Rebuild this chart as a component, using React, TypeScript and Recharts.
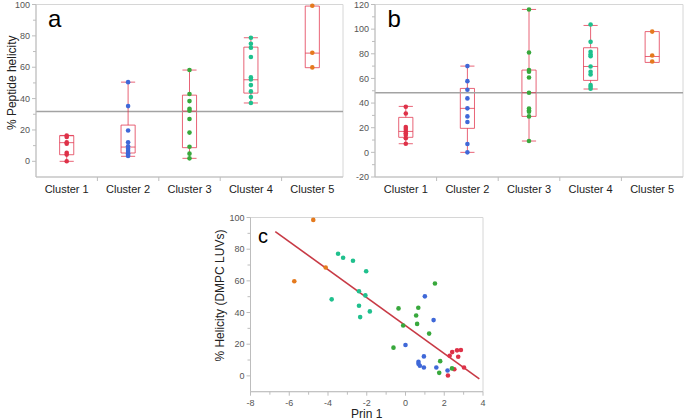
import React from "react"
import { ComposedChart, Scatter, XAxis, YAxis, ReferenceLine, ReferenceArea } from "recharts"

const CLUSTERS = ["Cluster 1", "Cluster 2", "Cluster 3", "Cluster 4", "Cluster 5"]
const COLORS = ["#de3148", "#3f68d8", "#38a83c", "#1fc08d", "#e47a1e"]

// panel a: % peptide helicity per cluster
const helixA = [
  [16.5, 15.5, 12.2, 11.2, 5.5, 4.3, 0],
  [50.5, 35.2, 19.7, 12.1, 9.6, 8.0, 6.6, 5.1, 4.2, 3.4],
  [58.2, 42.9, 38.4, 33.5, 32.3, 27, 18.3, 9.3, 4.9, 1.9],
  [78.8, 75, 72.4, 66.5, 53.5, 52.2, 48.6, 44.6, 41, 37.2],
  [99.2, 69.2, 59.9],
]
// [low whisker, q1, median, q3, high whisker]
const boxA = [
  [0, 4.2, 11.9, 16.3, 16.5],
  [3.2, 5.3, 9.1, 23.1, 50.5],
  [1.9, 8.7, 32, 42.2, 58.2],
  [37.2, 43.5, 52, 72.8, 78.8],
  [null, 59.7, 69, 99, null],
]
const MEAN_A = 31.7

// panel b
const helixB = [
  [37, 31.5, 20.5, 19, 17, 15.5, 14, 11.5, 7],
  [70, 57.8, 50.8, 43.8, 35.7, 29.2, 24.6, 6.8, 0],
  [116, 81, 66.8, 65.4, 60.8, 48.4, 35.5, 34, 33, 29.2, 9.2],
  [103.8, 89.7, 81.6, 79.5, 78, 69.7, 65.4, 63.2, 54.6, 53.2, 51.6],
  [98, 78.6, 73.8],
]
const boxB = [
  [7, 12.2, 17, 28.4, 37.3],
  [0, 19.5, 35.7, 51.9, 70],
  [9.2, 29.2, 48.4, 66.8, 116],
  [51.4, 58.4, 69.7, 84.9, 103],
  [null, 73, 77.8, 98, null],
]
const MEAN_B = 48.3

// panel c: [Prin 1, % helicity DMPC]
const pcC = [
  [[2.86, 16.3], [2.66, 16.1], [2.41, 15.0], [2.28, 12.7], [2.72, 12.1], [2.52, 4.2], [3.02, 5.3], [2.19, 0.2]],
  [[1.0, 50.2], [1.45, 35.2], [0.0, 19.5], [0.95, 12.3], [0.67, 8.9], [0.67, 7.6], [0.74, 6.4], [0.95, 5.3], [1.59, 5.3], [2.17, 3.4]],
  [[1.52, 58.3], [-0.36, 42.6], [0.66, 43.0], [0.55, 38.1], [0.6, 32.8], [-0.12, 31.8], [1.22, 26.7], [-0.62, 17.8], [1.79, 9.3], [1.74, 1.9], [2.4, 4.7]],
  [[-3.48, 77.1], [-3.22, 74.6], [-2.71, 72.7], [-2.03, 66.1], [-3.81, 48.3], [-2.4, 53.4], [-2.07, 50.8], [-2.4, 44.3], [-2.34, 37.1], [-1.84, 40.7]],
  [[-4.76, 98.5], [-4.12, 68.4], [-5.74, 59.7]],
]
const FIT_X = [-6.72, 3.81]
const FIT_Y = [91.1, -1.9]

const CAT_TICKS = [1, 1.5, 2, 2.5, 3, 3.5, 4, 4.5, 5]
const TICKS_A = [0, 10, 20, 30, 40, 50, 60, 70, 80, 90, 100]
const TICKS_B = [-20, -10, 0, 10, 20, 30, 40, 50, 60, 70, 80, 90, 100, 110, 120]
const TICKS_CX = [-8, -7, -6, -5, -4, -3, -2, -1, 0, 1, 2, 3, 4]

const FONT = "'Liberation Sans', Arial, sans-serif"
const AXIS = "#bdbdbd"
const BORDER = "#d6d6d6"
const BOX = "#e0304a"
const HALF = 0.115

const dot = (color: string) => (p: any) => <circle cx={p.cx} cy={p.cy} r={2.3} fill={color} />

function YTick({ x, y, payload, step }: any) {
  const major = payload.value % step === 0
  return (
    <g>
      <line x1={x - (major ? 4 : 3)} x2={x} y1={y} y2={y} stroke={AXIS} />
      {major && (
        <text x={x - 6} y={y} dy="0.35em" textAnchor="end" fontSize={9} fill="#555" fontFamily={FONT}>
          {payload.value}
        </text>
      )}
    </g>
  )
}

function CatTick({ x, y, payload }: any) {
  const v = payload.value
  if (Number.isInteger(v)) {
    return (
      <text x={x} y={y + 16} textAnchor="middle" fontSize={11} fill="#222" fontFamily={FONT}>
        {CLUSTERS[v - 1]}
      </text>
    )
  }
  return <line x1={x} x2={x} y1={y} y2={y + 4} stroke={AXIS} />
}

function NumTick({ x, y, payload }: any) {
  const major = payload.value % 2 === 0
  return (
    <g>
      <line x1={x} x2={x} y1={y} y2={y + (major ? 4 : 3)} stroke={AXIS} />
      {major && (
        <text x={x} y={y + 14.5} textAnchor="middle" fontSize={9} fill="#555" fontFamily={FONT}>
          {payload.value}
        </text>
      )}
    </g>
  )
}

function VTitle({ viewBox, value, dx = 0, dy = 0 }: any) {
  const x = viewBox.x + viewBox.width / 2 + dx
  const y = viewBox.y + viewBox.height / 2 + dy
  return (
    <text x={x} y={y} transform={`rotate(-90 ${x} ${y})`} textAnchor="middle" dominantBaseline="central" fontSize={12} fill="#222" fontFamily={FONT}>
      {value}
    </text>
  )
}

function HTitle({ viewBox, value }: any) {
  return (
    <text x={viewBox.x + viewBox.width / 2} y={viewBox.y + 26} textAnchor="middle" fontSize={12} fill="#222" fontFamily={FONT}>
      {value}
    </text>
  )
}

function boxMarks(b: (number | null)[], i: number) {
  const [lo, q1, med, q3, hi] = b
  const c = i + 1
  const s = { stroke: BOX, strokeOpacity: 0.75, strokeWidth: 1 }
  const out = [
    <ReferenceArea key={`box${i}`} x1={c - HALF} x2={c + HALF} y1={q1 as number} y2={q3 as number} fill="none" {...s} />,
    <ReferenceLine key={`med${i}`} segment={[{ x: c - HALF, y: med }, { x: c + HALF, y: med }]} {...s} />,
  ]
  if (lo != null && hi != null) {
    out.push(
      <ReferenceLine key={`wl${i}`} segment={[{ x: c, y: lo }, { x: c, y: q1 }]} {...s} />,
      <ReferenceLine key={`wh${i}`} segment={[{ x: c, y: q3 }, { x: c, y: hi }]} {...s} />,
      <ReferenceLine key={`cl${i}`} segment={[{ x: c - HALF, y: lo }, { x: c + HALF, y: lo }]} {...s} />,
      <ReferenceLine key={`ch${i}`} segment={[{ x: c - HALF, y: hi }, { x: c + HALF, y: hi }]} {...s} />,
    )
  }
  return out
}

function BoxPanel({ points, boxes, mean, domain, ticks, yWidth, title }: any) {
  return (
    <ComposedChart width={345} height={200} margin={{ top: 4.5, right: 2, bottom: 0, left: 0 }}>
      <XAxis
        type="number"
        dataKey="x"
        domain={[0.5, 5.5]}
        ticks={CAT_TICKS}
        interval={0}
        tickSize={0}
        tickMargin={0}
        tickLine={false}
        height={23}
        axisLine={{ stroke: AXIS }}
        tick={(p: any) => <CatTick {...p} />}
      />
      <YAxis
        type="number"
        dataKey="y"
        domain={domain}
        ticks={ticks}
        interval={0}
        tickSize={0}
        tickMargin={0}
        tickLine={false}
        width={yWidth}
        axisLine={{ stroke: AXIS }}
        tick={(p: any) => <YTick {...p} step={20} />}
        label={title ? <VTitle value={title} dx={-6} dy={-8} /> : undefined}
      />
      <ReferenceArea x1={0.5} x2={5.5} y1={domain[0]} y2={domain[1]} fill="none" stroke={BORDER} />
      <ReferenceLine y={mean} stroke="#a3a3a3" strokeWidth={1.5} />
      {points.map((vals: number[], i: number) => (
        <Scatter
          key={i}
          data={vals.map((v) => ({ x: i + 1, y: v }))}
          isAnimationActive={false}
          shape={dot(COLORS[i])}
        />
      ))}
      {boxes.flatMap((b: any, i: number) => boxMarks(b, i))}
    </ComposedChart>
  )
}

const letter = (size: number): React.CSSProperties => ({
  position: "absolute",
  fontFamily: FONT,
  fontSize: size,
  lineHeight: 1,
  color: "#000",
})

export default function App() {
  return (
    <div style={{ position: "absolute", left: 0, top: 0, width: 685, height: 420, background: "#fff", fontFamily: FONT }}>
      <div style={{ position: "absolute", left: 0, top: 0 }}>
        <BoxPanel points={helixA} boxes={boxA} mean={MEAN_A} domain={[-10, 100]} ticks={TICKS_A} yWidth={36} title="% Peptide helicity" />
      </div>
      <div style={{ position: "absolute", left: 340, top: 0 }}>
        <BoxPanel points={helixB} boxes={boxB} mean={MEAN_B} domain={[-20, 120]} ticks={TICKS_B} yWidth={35} />
      </div>
      <div style={{ position: "absolute", left: 180, top: 205 }}>
        <ComposedChart width={320} height={215} margin={{ top: 12.5, right: 17, bottom: 0, left: 0 }}>
          <XAxis
            type="number"
            dataKey="x"
            domain={[-8, 4]}
            ticks={TICKS_CX}
            interval={0}
            tickSize={0}
            tickMargin={0}
            tickLine={false}
            height={28.3}
            axisLine={{ stroke: AXIS }}
            tick={(p: any) => <NumTick {...p} />}
            label={<HTitle value="Prin 1" />}
          />
          <YAxis
            type="number"
            dataKey="y"
            domain={[-10, 100]}
            ticks={TICKS_A}
            interval={0}
            tickSize={0}
            tickMargin={0}
            tickLine={false}
            width={70.5}
            axisLine={{ stroke: AXIS }}
            tick={(p: any) => <YTick {...p} step={20} />}
            label={<VTitle value="% Helicity (DMPC LUVs)" dx={5} dy={-9} />}
          />
          <ReferenceArea x1={-8} x2={4} y1={-10} y2={100} fill="none" stroke={BORDER} />
          {pcC.map((pts, i) => (
            <Scatter
              key={i}
              data={pts.map(([x, y]) => ({ x, y }))}
              isAnimationActive={false}
              shape={dot(COLORS[i])}
            />
          ))}
          <ReferenceLine
            segment={[{ x: FIT_X[0], y: FIT_Y[0] }, { x: FIT_X[1], y: FIT_Y[1] }]}
            stroke="#c83a45"
            strokeWidth={1.6}
          />
        </ComposedChart>
      </div>
      <div style={{ ...letter(24), left: 48, top: 6.7 }}>a</div>
      <div style={{ ...letter(24), left: 387.5, top: 6.7 }}>b</div>
      <div style={{ ...letter(20), left: 258, top: 226 }}>c</div>
    </div>
  )
}
